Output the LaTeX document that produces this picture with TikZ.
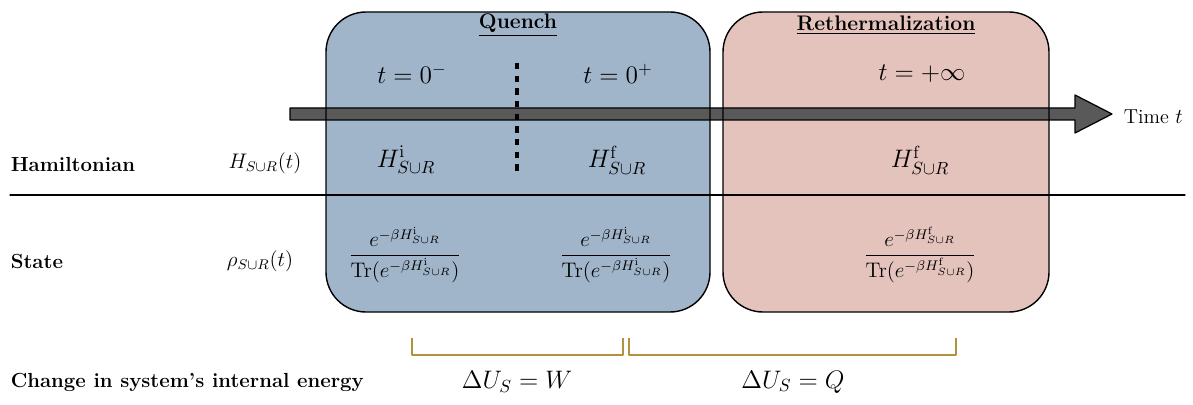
\documentclass[tikz,border=0pt,11pt]{standalone}
\usepackage{amsmath,amssymb}
\usetikzlibrary{positioning}
\definecolor{quenchblue}{RGB}{160,180,202}
\definecolor{rethermpink}{RGB}{228,195,189}
\definecolor{bracegold}{RGB}{180,145,60}
\tikzset{
  phasebox/.style={draw=black,line width=0.8pt,rounded corners=0.8cm},
  rowlabel/.style={anchor=west,font=\fontsize{11.6}{14}\selectfont\bfseries},
  boxtitle/.style={font=\large\bfseries},
  eqn/.style={font=\Large},
  quantity/.style={font=\large},
  energybrace/.style={draw=bracegold,line width=0.8pt,line cap=butt},
}
\newcommand{\SR}{S\cup R}
\begin{document}
\begin{tikzpicture}[x=0.02cm,y=-0.02cm,line cap=round,line join=round]
\useasboundingbox (0,0) rectangle (1193,405);
% phase boxes (fill first, outline after the arrow)
\fill[quenchblue,rounded corners=0.8cm] (326,12) rectangle (710,312);
\fill[rethermpink,rounded corners=0.8cm] (723,12) rectangle (1049,312);
% time arrow
\draw[fill=black!65,line width=0.7pt] (290,108) -- (1075,108) -- (1075,95) -- (1112,114)
  -- (1075,133) -- (1075,120) -- (290,120) -- cycle;
\draw[phasebox] (326,12) rectangle (710,312);
\draw[phasebox] (723,12) rectangle (1049,312);
\node[anchor=west] (time) at (1117,117) {\fontsize{11.5}{14}\selectfont Time $t$};
% separator
\draw[line width=0.6pt] (10,195) -- (1185,195);
\draw[line width=2pt,dash pattern=on 3.6pt off 3.6pt,line cap=butt] (517,63) -- (517,176.5);
% titles
\node[boxtitle] (quench) at (518,25) {\underline{Quench}};
\node[boxtitle] (retherm) at (886,25) {\underline{Rethermalization}};
% times
\node[eqn] (tminus) at (412,74) {$t=0^-$};
\node[eqn] (tplus) at (618,74) {$t=0^+$};
\node[eqn] (tinf) at (922,74) {$t=+\infty$};
% Hamiltonian row
\node[rowlabel] (hamlabel) at (4,164) {Hamiltonian};
\node[quantity] (hsym) at (265,163) {$H_{\SR}(t)$};
\node[eqn] (hini) at (406,160) {$H^{\mathrm{i}}_{\SR}$};
\node[eqn] (hfin) at (617,160) {$H^{\mathrm{f}}_{\SR}$};
\node[eqn] (hlate) at (920,160) {$H^{\mathrm{f}}_{\SR}$};
% State row
\node[rowlabel] (statelabel) at (4,262) {State};
\node[quantity] (rhosym) at (260,261) {$\rho_{\SR}(t)$};
\node[quantity] (rhoini) at (405,255)
  {$\displaystyle\frac{e^{-\beta H^{\mathrm{i}}_{\SR}}}{\mathrm{Tr}(e^{-\beta H^{\mathrm{i}}_{\SR}})}$};
\node[quantity] (rhofin) at (616,255)
  {$\displaystyle\frac{e^{-\beta H^{\mathrm{i}}_{\SR}}}{\mathrm{Tr}(e^{-\beta H^{\mathrm{i}}_{\SR}})}$};
\node[quantity] (rholate) at (920,255)
  {$\displaystyle\frac{e^{-\beta H^{\mathrm{f}}_{\SR}}}{\mathrm{Tr}(e^{-\beta H^{\mathrm{f}}_{\SR}})}$};
% internal energy row
\node[rowlabel] (energylabel) at (4,382) {Change in system's internal energy};
\node[eqn] (work) at (517,382) {$\Delta U_S=W$};
\node[eqn] (heat) at (793,382) {$\Delta U_S=Q$};
\coordinate (wleft) at (412,338);
\coordinate (wright) at (623,338);
\coordinate (qleft) at (629,338);
\coordinate (qright) at (956,338);
\draw[energybrace] (wleft) -- ++(0,17) -| (wright);
\draw[energybrace] (qleft) -- ++(0,17) -| (qright);
\end{tikzpicture}
\end{document}
